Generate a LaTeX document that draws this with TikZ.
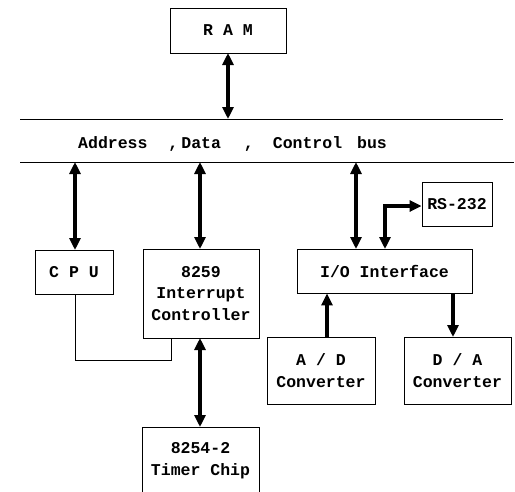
\documentclass[tikz,border=0pt]{standalone}
\usepackage{fontspec}
\newfontfamily\blockfont{Liberation Mono}
\usetikzlibrary{arrows.meta}

\tikzset{
  block/.style={draw, line width=0.9pt, inner sep=0pt, align=center,
    font=\blockfont\bfseries\fontsize{16.5}{21.5}\selectfont},
  busline/.style={line width=1pt},
  link/.style={line width=4pt, line join=miter},
  tip/.style={-{Triangle[length=12pt,width=11pt]}},
  tips/.style={{Triangle[length=12pt,width=11pt]}-{Triangle[length=12pt,width=11pt]}},
  wire/.style={line width=0.9pt},
  buslabel/.style={font=\blockfont\bfseries\fontsize{16.5}{21.5}\selectfont, inner sep=0pt}
}

\begin{document}
\begin{tikzpicture}[x=1pt,y=-1pt]
  \useasboundingbox (0,0) rectangle (515,491);
  \clip (0,0) rectangle (515,491);

  % system bus
  \coordinate (busTL) at (20,119);
  \coordinate (busTR) at (503,119);
  \coordinate (busBL) at (20,162);
  \coordinate (busBR) at (514,162);
  \draw[busline] (busTL) -- (busTR);
  \draw[busline] (busBL) -- (busBR);
  \node[buslabel, anchor=base west] (buslbl) at (78,148)
    {Address\hspace{21pt},\hspace{3pt}Data\hspace{23pt},\hspace{19pt}Control\hspace{15pt}bus};

  % blocks
  \node[block, minimum width=116pt, minimum height=45pt] (ram) at (228,30.5) {R A M};
  \node[block, minimum width=78pt, minimum height=44pt] (cpu) at (74,272) {C P U};
  \node[block, minimum width=116pt, minimum height=89pt] (pic) at (201,293.5)
    {8259\\Interrupt\\Controller};
  \node[block, minimum width=117pt, minimum height=90pt, anchor=north] (timer) at (200.5,427)
    {};
  \node[buslabel, align=center] (timertxt) at (200.5,460.5)
    {8254-2\\Timer Chip};
  \node[block, minimum width=175pt, minimum height=44pt] (io) at (384.5,271) {I/O Interface};
  \node[block, minimum width=70pt, minimum height=44pt] (rs) at (457,204) {RS-232};
  \node[block, minimum width=108pt, minimum height=67pt] (ad) at (321,370.5) {A / D\\Converter};
  \node[block, minimum width=107pt, minimum height=67pt] (da) at (457.5,370.5) {D / A\\Converter};

  % bus connections
  \coordinate (ramB) at (228,53);
  \draw[link, tips] (ramB) -- (ramB |- busTL);
  \coordinate (cpuT) at (75,250);
  \draw[link, tips] (cpuT |- busBL) -- (cpuT);
  \coordinate (picT) at (200,249);
  \draw[link, tips] (picT |- busBL) -- (picT);
  \coordinate (ioT) at (356,249);
  \draw[link, tips] (ioT |- busBL) -- (ioT);

  % serial port
  \coordinate (ioT2) at (385,249);
  \draw[link, tips] (ioT2) -- (385,206) -- (rs.west |- 0,206);

  % converters
  \coordinate (adT) at (327,337);
  \draw[link, tip] (adT) -- (adT |- io.south);
  \coordinate (daT) at (453,337);
  \draw[link, tip] (daT |- io.south) -- (daT);

  % interrupt controller to timer
  \coordinate (picB) at (200,338);
  \draw[link, tips] (picB) -- (200,427);

  % CPU interrupt line
  \coordinate (cpuB) at (75,294);
  \draw[wire] (cpuB) -- (75,360) -- (171,360) -- (171,338);
\end{tikzpicture}
\end{document}
